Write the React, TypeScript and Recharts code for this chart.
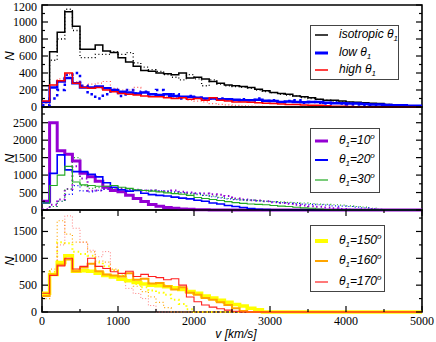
import React from 'react';
import { LineChart, Line, XAxis, YAxis, ReferenceArea } from 'recharts';

// histogram bins, 100 km/s wide, left edges 0..4900 (+ closing edge at 5000)
const vEdges = Array.from({ length: 51 }, (_, i) => i * 100);
const xTicks = [0, 500, 1000, 1500, 2000, 2500, 3000, 3500, 4000, 4500, 5000];

// top panel
const isoSolid = [250, 650, 880, 1120, 950, 680, 680, 730, 660, 640, 580, 530, 480, 430, 420, 400, 390, 380, 400, 340, 350, 330, 300, 280, 260, 250, 240, 230, 210, 190, 170, 160, 150, 130, 120, 110, 90, 80, 80, 70, 60, 55, 50, 45, 40, 30, 25, 20, 15, 10];
const isoDotted = [200, 550, 800, 1150, 900, 580, 580, 620, 620, 650, 620, 640, 520, 470, 440, 420, 380, 350, 320, 380, 330, 250, 320, 270, 250, 240, 230, 220, 200, 180, 170, 150, 140, 130, 110, 100, 90, 80, 70, 60, 55, 50, 45, 40, 35, 30, 25, 20, 15, 10];
const lowSolid = [60, 230, 300, 340, 280, 230, 230, 240, 220, 200, 180, 170, 160, 170, 150, 140, 150, 130, 120, 120, 110, 100, 100, 90, 90, 85, 80, 80, 85, 75, 70, 60, 65, 60, 55, 60, 60, 50, 45, 45, 40, 40, 35, 30, 30, 25, 20, 20, 15, 15];
const lowDotted = [20, 100, 200, 380, 400, 250, 150, 100, 150, 200, 130, 200, 160, 180, 150, 200, 130, 150, 100, 130, 110, 90, 100, 100, 90, 80, 90, 80, 100, 70, 80, 60, 70, 80, 50, 60, 50, 40, 50, 40, 30, 30, 25, 20, 20, 15, 10, 10, 5, 5];
const highSolid = [70, 260, 310, 400, 280, 230, 220, 230, 200, 180, 160, 150, 140, 130, 120, 120, 110, 100, 110, 90, 100, 80, 110, 80, 70, 60, 60, 55, 50, 45, 40, 35, 30, 30, 25, 20, 20, 15, 10, 8, 5, 3];
const highDotted = [40, 230, 330, 380, 300, 250, 270, 280, 300, 220, 200, 200, 230, 180, 150, 130, 120, 110, 100, 80, 70, 60, 40, 30, 25, 20, 15, 10, 8, 5, 3];

// middle panel
const t10 = [250, 2500, 1700, 1600, 1400, 1050, 950, 820, 650, 560, 520, 420, 330, 240, 160, 110, 70, 50, 30, 20, 10, 5];
const t20 = [200, 1050, 1580, 1150, 1100, 1100, 1020, 950, 780, 650, 580, 540, 560, 480, 440, 420, 400, 370, 340, 320, 280, 250, 200, 170, 130, 100, 70, 40, 20, 10];
const t30 = [200, 700, 1000, 1250, 800, 720, 700, 680, 680, 700, 650, 620, 580, 560, 540, 520, 490, 470, 450, 420, 360, 330, 300, 270, 240, 210, 190, 170, 160, 150, 130, 110, 100, 80, 60, 50, 30, 15, 5];
const t10d = [20, 150, 300, 600, 1250, 900, 550, 560, 600, 620, 620, 600, 580, 560, 560, 540, 530, 560, 520, 500, 480, 470, 450, 440, 400, 330, 300, 280, 270, 250, 220, 200, 180, 150, 130, 110, 90, 70, 50, 30, 10];
const t20d = [10, 100, 250, 450, 700, 550, 520, 560, 600, 600, 580, 570, 560, 560, 560, 550, 540, 520, 500, 480, 460, 420, 380, 350, 320, 300, 290, 280, 260, 250, 230, 210, 200, 190, 170, 160, 150, 140, 120, 110, 100, 80, 60, 40, 20, 10];
const t30d = [10, 100, 250, 600, 1500, 700, 620, 640, 640, 620, 600, 600, 580, 560, 560, 530, 520, 500, 480, 460, 440, 420, 400, 360, 330, 310, 290, 280, 270, 250, 240, 230, 220, 210, 200, 180, 170, 160, 150, 140, 120, 100, 80, 50, 20];

// bottom panel
const t150 = [350, 700, 920, 1050, 760, 770, 760, 720, 680, 650, 610, 580, 550, 520, 500, 490, 470, 450, 420, 380, 350, 300, 260, 220, 180, 140, 110, 70, 40];
const t160 = [300, 700, 880, 980, 760, 830, 900, 760, 700, 680, 660, 720, 600, 620, 530, 540, 480, 420, 460, 360, 320, 260, 230, 180, 130, 70, 20];
const t170 = [350, 680, 860, 1000, 800, 850, 1000, 850, 810, 750, 720, 760, 660, 700, 660, 640, 600, 620, 500, 280, 190, 130, 90, 60, 35, 15];
const t150d = [300, 750, 1300, 1280, 1120, 1080, 1050, 920, 850, 780, 680, 600, 520, 460, 400, 360, 320, 230, 150, 50];
const t160d = [250, 800, 1700, 1450, 1300, 1300, 1120, 950, 930, 800, 680, 580, 480, 380, 280, 180, 80];
const t170d = [300, 700, 1250, 1790, 1560, 1300, 1150, 1030, 1125, 780, 590, 440, 345, 250, 120];

const toRows = (series: Record<string, number[]>) =>
  vEdges.map((v, i) => {
    const row: Record<string, number> = { v };
    for (const k of Object.keys(series)) row[k] = series[k][Math.min(i, 49)] ?? 0;
    return row;
  });

type Series = { key: string; color: string; width: number; dash?: string; opacity?: number };

const serif = { fontFamily: '"Liberation Serif", "Times New Roman", serif', fontSize: 12 };
const sansIt = { fontFamily: '"Liberation Sans", Arial, sans-serif', fontStyle: 'italic' as const };

const XTick = (props: any) => {
  const { x, y, payload, plotH, labels } = props;
  const major = payload.value % 1000 === 0;
  const len = major ? 6 : 3;
  return (
    <g>
      <line x1={x} x2={x} y1={y} y2={y - len} stroke="#000" strokeWidth={1.2} />
      <line x1={x} x2={x} y1={y - plotH} y2={y - plotH + len} stroke="#000" strokeWidth={1.2} />
      {labels && major && (
        <text x={x} y={y + 13} textAnchor="middle" style={serif} fill="#000">
          {payload.value}
        </text>
      )}
    </g>
  );
};

const YTick = (props: any) => {
  const { x, y, payload, plotW, step, minY } = props;
  const major = payload.value % step === 0;
  const len = major ? 6 : 3;
  return (
    <g>
      <line x1={x} x2={x + len} y1={y} y2={y} stroke="#000" strokeWidth={1.2} />
      <line x1={x + plotW} x2={x + plotW - len} y1={y} y2={y} stroke="#000" strokeWidth={1.2} />
      {major && (
        <text x={x - 5} y={Math.max(y + 4, minY ?? 0)} textAnchor="end" style={serif} fill="#000">
          {payload.value}
        </text>
      )}
    </g>
  );
};

const NLabel = (props: any) => {
  const { viewBox } = props;
  const cx = 9;
  const cy = viewBox.y + viewBox.height / 2;
  return (
    <text x={cx} y={cy} transform={`rotate(-90 ${cx} ${cy})`} textAnchor="middle" dominantBaseline="central"
      style={{ ...sansIt, fontSize: 13 }} fill="#000">
      N
    </text>
  );
};

const VLabel = (props: any) => {
  const { viewBox } = props;
  return (
    <text x={viewBox.x + viewBox.width / 2 + 4} y={viewBox.y + 26} textAnchor="middle"
      style={{ ...sansIt, fontSize: 12 }} fill="#000">
      v [km/s]
    </text>
  );
};

type PanelProps = {
  top: number; height: number; mt: number; mb: number; xh: number;
  yMax: number; yTicks: number[]; step: number;
  rows: Record<string, number>[]; series: Series[]; labels?: boolean;
};

const Panel = ({ top, height, mt, mb, xh, yMax, yTicks, step, rows, series, labels }: PanelProps) => {
  const plotH = height - mt - mb - xh;
  return (
    <div style={{ position: 'absolute', left: 0, top }}>
      <LineChart width={436} height={height} data={rows} margin={{ top: mt, right: 14, bottom: mb, left: 0 }}
        style={{ overflow: 'visible' }}>
        <ReferenceArea x1={0} x2={5000} y1={0} y2={yMax} fill="none" stroke="#000" strokeWidth={1.6} />
        <XAxis dataKey="v" type="number" domain={[0, 5000]} ticks={xTicks} interval={0} height={xh}
          axisLine={false} tickLine={false} tickSize={0} tickMargin={0}
          tick={<XTick plotH={plotH} labels={labels} />} label={labels ? <VLabel /> : undefined} />
        <YAxis type="number" domain={[0, yMax]} ticks={yTicks} interval={0} width={42}
          axisLine={false} tickLine={false} tickSize={0} tickMargin={0}
          tick={<YTick plotW={380} step={step} minY={11} />} label={<NLabel />} />
        {series.map((s) => (
          <Line key={s.key} dataKey={s.key} type="stepAfter" stroke={s.color} strokeWidth={s.width}
            strokeDasharray={s.dash} strokeOpacity={s.opacity ?? 1} dot={false} activeDot={false}
            isAnimationActive={false} />
        ))}
      </LineChart>
    </div>
  );
};

type LegendItem = { label: React.ReactNode; color: string; width: number };

const LegendBox = ({ left, top, width, height, rows, items }: { left: number; top: number; width: number; height: number; rows: number[]; items: LegendItem[] }) => (
  <div style={{ position: 'absolute', left, top, width, height, border: '1px solid #444', boxSizing: 'border-box', background: '#fff' }}>
    {items.map((it, i) => (
      <div key={i} style={{ position: 'absolute', left: 4, top: rows[i] - 8, height: 16, display: 'flex', alignItems: 'center', whiteSpace: 'nowrap' }}>
        <svg width={13} height={6} style={{ display: 'block' }}>
          <line x1={0} x2={13} y1={3} y2={3} stroke={it.color} strokeWidth={it.width} />
        </svg>
        <span style={{ marginLeft: 11, ...sansIt, fontSize: 12, color: '#000' }}>{it.label}</span>
      </div>
    ))}
  </div>
);

const th = (deg?: string) => (
  <>
    θ<sub style={{ fontSize: 8 }}>1</sub>
    {deg !== undefined && (
      <>
        ={deg}
        <sup style={{ fontSize: 8 }}>o</sup>
      </>
    )}
  </>
);

const topRows = toRows({ iso: isoSolid, isoD: isoDotted, low: lowSolid, lowD: lowDotted, high: highSolid, highD: highDotted });
const midRows = toRows({ a: t10, b: t20, c: t30, aD: t10d, bD: t20d, cD: t30d });
const botRows = toRows({ a: t150, b: t160, c: t170, aD: t150d, bD: t160d, cD: t170d });

export default function App() {
  return (
    <div style={{ position: 'absolute', left: 0, top: 0, width: 436, height: 342, background: '#fff', overflow: 'hidden' }}>
      <Panel top={0} height={120} mt={5} mb={13} xh={0} yMax={1200} step={200}
        yTicks={[0, 100, 200, 300, 400, 500, 600, 700, 800, 900, 1000, 1100, 1200]} rows={topRows}
        series={[
          { key: 'isoD', color: '#000', width: 1.3, dash: '1 2.5' },
          { key: 'lowD', color: '#0000ff', width: 2.5, dash: '2.5 3.5' },
          { key: 'highD', color: '#ff3030', width: 1.2, dash: '1 2.5', opacity: 0.8 },
          { key: 'iso', color: '#000', width: 1.5 },
          { key: 'low', color: '#0000ff', width: 2.5 },
          { key: 'high', color: '#ff0000', width: 1.5 },
        ]} />
      <Panel top={95} height={127} mt={12} mb={12} xh={0} yMax={2950} step={500}
        yTicks={[0, 250, 500, 750, 1000, 1250, 1500, 1750, 2000, 2250, 2500, 2750]} rows={midRows}
        series={[
          { key: 'aD', color: '#9400d3', width: 2, dash: '1.5 3' },
          { key: 'bD', color: '#0000ff', width: 1.2, dash: '1 2.5' },
          { key: 'cD', color: '#22aa22', width: 1.2, dash: '1 2.5' },
          { key: 'a', color: '#9400d3', width: 3 },
          { key: 'b', color: '#0000ff', width: 1.6 },
          { key: 'c', color: '#22aa22', width: 1.1 },
        ]} />
      <Panel top={198} height={144} mt={12} mb={0} xh={30} yMax={1900} step={500} labels
        yTicks={[0, 250, 500, 750, 1000, 1250, 1500, 1750]} rows={botRows}
        series={[
          { key: 'aD', color: '#ffff00', width: 2, dash: '1.5 3' },
          { key: 'bD', color: '#ffa500', width: 1.2, dash: '1 2.5' },
          { key: 'cD', color: '#ff6060', width: 1, dash: '1 2', opacity: 0.8 },
          { key: 'a', color: '#ffff00', width: 3.5 },
          { key: 'b', color: '#ffa500', width: 2 },
          { key: 'c', color: '#ff2020', width: 1.1 },
        ]} />
      <LegendBox left={310} top={25} width={89} height={55} rows={[9, 27, 44]}
        items={[
          { label: <>isotropic {th()}</>, color: '#000', width: 1.5 },
          { label: <>low {th()}</>, color: '#0000ff', width: 3 },
          { label: <>high {th()}</>, color: '#ff0000', width: 1.5 },
        ]} />
      <LegendBox left={310} top={128} width={70} height={65} rows={[11.5, 31, 51]}
        items={[
          { label: th('10'), color: '#9400d3', width: 3 },
          { label: th('20'), color: '#0000ff', width: 2 },
          { label: th('30'), color: '#22aa22', width: 1.2 },
        ]} />
      <LegendBox left={310} top={225} width={75} height={67} rows={[15, 35, 55.5]}
        items={[
          { label: th('150'), color: '#ffff00', width: 4 },
          { label: th('160'), color: '#ffa500', width: 2 },
          { label: th('170'), color: '#ff2020', width: 1.2 },
        ]} />
    </div>
  );
}
